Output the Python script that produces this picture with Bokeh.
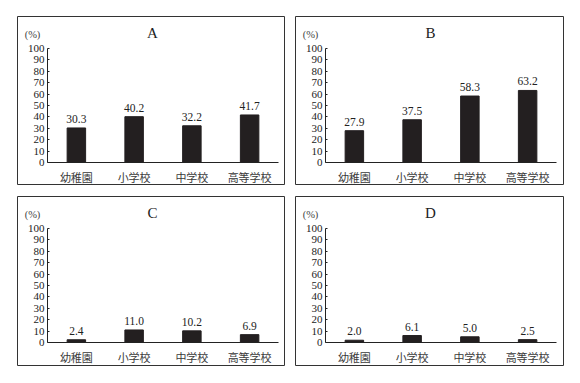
from bokeh.plotting import figure
from bokeh.layouts import column, row
from bokeh.models import Range1d, FixedTicker, ColumnDataSource
from bokeh.core.properties import value
from bokeh.embed import file_html
from bokeh.resources import INLINE

categories = ["幼稚園", "小学校", "中学校", "高等学校"]
panel_titles = ["A", "B", "C", "D"]
values_a = [30.3, 40.2, 32.2, 41.7]
values_b = [27.9, 37.5, 58.3, 63.2]
values_c = [2.4, 11.0, 10.2, 6.9]
values_d = [2.0, 6.1, 5.0, 2.5]
y_ticks = list(range(0, 101, 10))
unit_label = "(%)"

BAR_COLOR = "#231f20"
TEXT_COLOR = "#222222"
SERIF = "Liberation Serif"
CJK = "Noto Sans CJK JP"

# pixel geometry of one panel box
PAD_LEFT = 30      # box edge to y axis
PAD_TOP = 32       # box edge to the 100 line
PLOT_H = 114       # px for 0..100
CAT_W = 57.75      # px per category


def make_panel(title, vals, w, h, gap_left, gap_top):
    pad_bottom = h - PAD_TOP - PLOT_H
    pad_right = w - PAD_LEFT - CAT_W * len(categories)
    ppu_y = PLOT_H / 100.0
    x_pos = list(range(1, len(categories) + 1))
    x0 = 0.5
    x1 = len(categories) + 0.5
    p = figure(
        x_range=Range1d(x0 - PAD_LEFT / CAT_W, x1 + pad_right / CAT_W),
        y_range=Range1d(-pad_bottom / ppu_y, 100 + PAD_TOP / ppu_y),
        width=w + gap_left, height=h + gap_top,
        output_backend="svg", toolbar_location=None,
        min_border=0, min_border_left=gap_left, min_border_right=0,
        min_border_top=gap_top, min_border_bottom=0,
    )
    src = ColumnDataSource(dict(x=x_pos, val=vals,
                                lbl=[f"{v:.1f}" for v in vals]))
    p.vbar(x="x", top="val", width=0.32, source=src,
           fill_color=BAR_COLOR, line_color=BAR_COLOR)
    p.text(x="x", y="val", text="lbl", source=src, text_align="center",
           text_baseline="bottom", y_offset=-5,
           text_font=value(SERIF), text_font_size="11.5px",
           text_color=TEXT_COLOR)

    # panel title and unit label
    p.text(x=[x0 + 105 / CAT_W], y=[100 + 16 / ppu_y], text=[title],
           text_align="center", text_baseline="middle",
           text_font=value(SERIF), text_font_size="15px",
           text_color=TEXT_COLOR)
    p.text(x=[x0 - 15 / CAT_W], y=[100 + 14 / ppu_y], text=[unit_label],
           text_align="center", text_baseline="middle",
           text_font=value(SERIF), text_font_size="10.5px",
           text_color="#444444")

    p.grid.visible = False
    p.outline_line_color = "#333333"
    p.outline_line_width = 1
    p.background_fill_color = "white"
    p.border_fill_color = "white"

    ya = p.yaxis[0]
    ya.fixed_location = x0
    ya.bounds = (0, 100)
    ya.ticker = FixedTicker(ticks=y_ticks)
    ya.major_tick_in = 2
    ya.major_tick_out = 0
    ya.minor_tick_in = 0
    ya.minor_tick_out = 0
    ya.major_label_standoff = 3
    ya.major_label_text_font = SERIF
    ya.major_label_text_font_size = "11px"
    ya.major_label_text_color = TEXT_COLOR
    ya.axis_line_color = "#222222"
    ya.major_tick_line_color = "#222222"

    xa = p.xaxis[0]
    xa.fixed_location = 0
    xa.bounds = (x0, x1)
    xa.ticker = FixedTicker(ticks=x_pos)
    xa.major_label_overrides = {i: c for i, c in zip(x_pos, categories)}
    xa.major_tick_in = 0
    xa.major_tick_out = 0
    xa.minor_tick_in = 0
    xa.minor_tick_out = 0
    xa.major_label_standoff = 6
    xa.major_label_text_font = CJK
    xa.major_label_text_font_size = "11px"
    xa.major_label_text_color = "#3a3a3a"
    xa.axis_line_color = "#222222"
    return p


pA = make_panel(panel_titles[0], values_a, 268, 169, 17, 16)
pB = make_panel(panel_titles[1], values_b, 269, 169, 10, 16)
pC = make_panel(panel_titles[2], values_c, 268, 170, 17, 11)
pD = make_panel(panel_titles[3], values_d, 269, 170, 10, 11)

layout = column(row(pA, pB), row(pC, pD))

with open("out.html", "w") as f:
    f.write(file_html(layout, INLINE))
